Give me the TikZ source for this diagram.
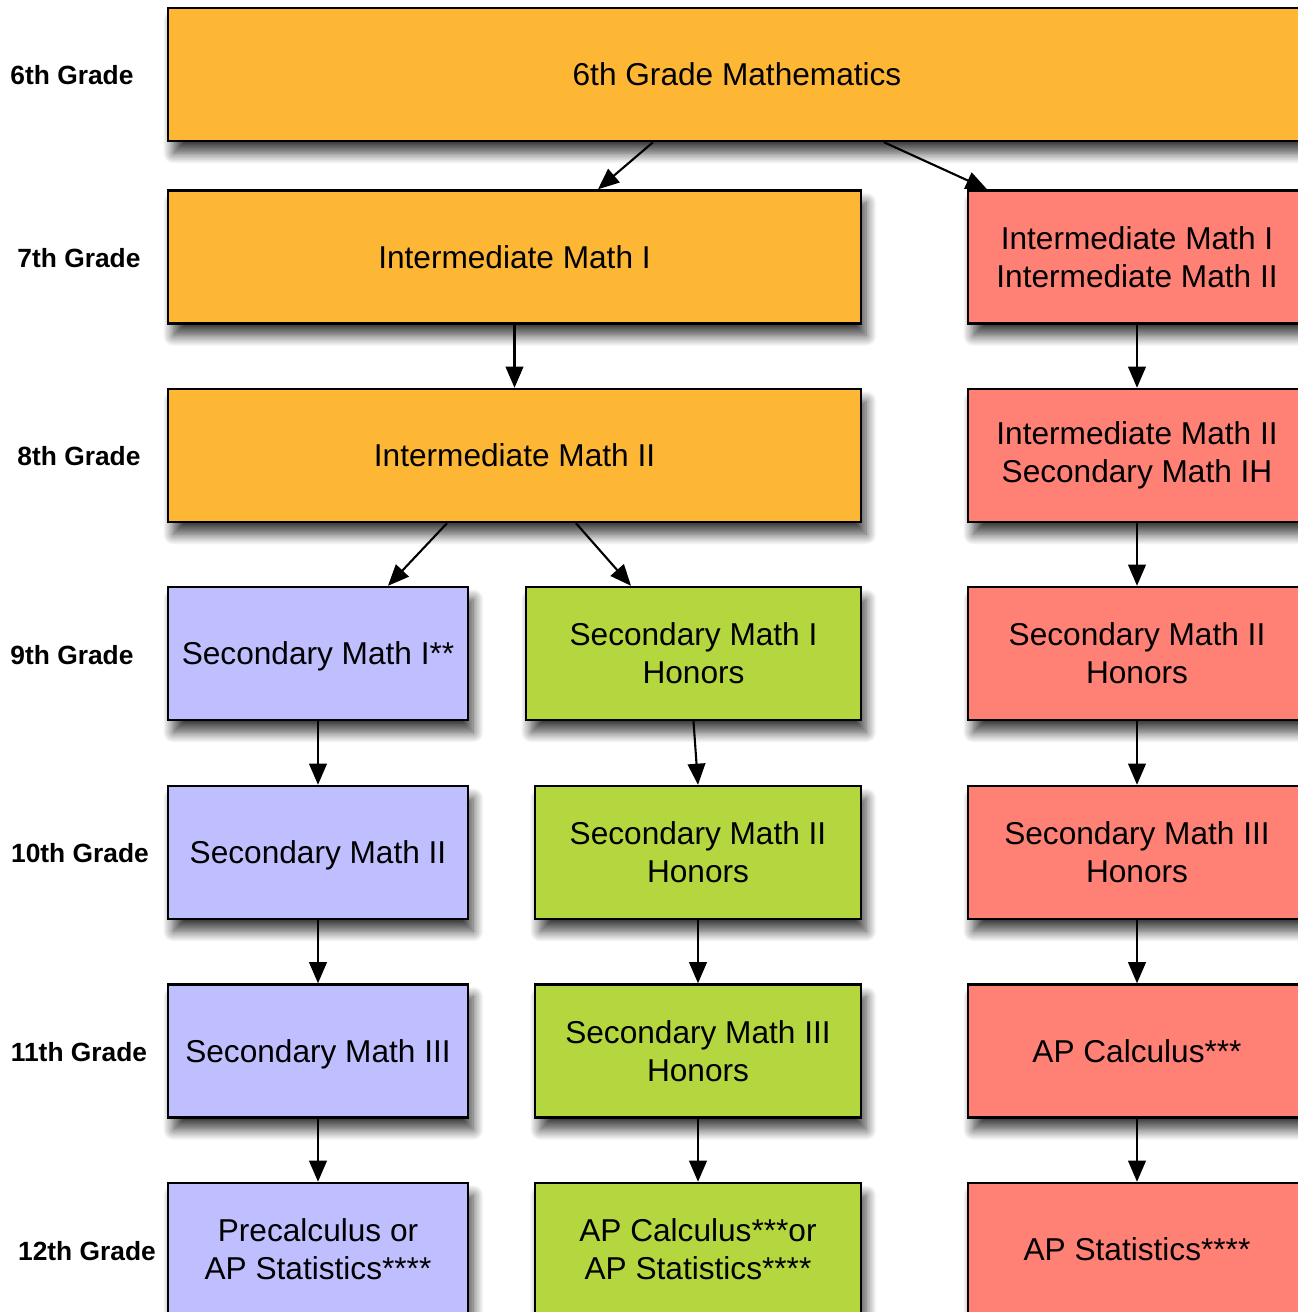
\documentclass[tikz,border=0pt]{standalone}
\usepackage{fontspec}
\setmainfont{Liberation Sans}
\usetikzlibrary{arrows.meta,shadows.blur}
\definecolor{gorange}{RGB}{253,183,53}
\definecolor{gred}{RGB}{255,128,116}
\definecolor{gblue}{RGB}{191,191,255}
\definecolor{ggreen}{RGB}{180,214,62}
\begin{document}
\begin{tikzpicture}[x=0.02cm,y=-0.02cm,
 course/.style={draw=black,line width=1.4pt,minimum height=2.66cm,align=center,
  font=\fontsize{18}{21.5}\selectfont,
  blur shadow={shadow xshift=3pt,shadow yshift=-7pt,shadow blur radius=6pt,shadow blur steps=14,shadow opacity=75}},
 single/.style={course,text depth=0pt},
 grade/.style={font=\bfseries\fontsize{15}{18}\selectfont},
 link/.style={line width=1.2pt,-{Triangle[length=12pt,width=10pt]}}]
 \clip (0,0) rectangle (1298,1312);
 % grade labels
 \node[grade] (g6) at (72,75) {6th Grade};
 \node[grade] (g7) at (79,258) {7th Grade};
 \node[grade] (g8) at (79,456) {8th Grade};
 \node[grade] (g9) at (72,655) {9th Grade};
 \node[grade] (g10) at (80,853) {10th Grade};
 \node[grade] (g11) at (79,1052) {11th Grade};
 \node[grade] (g12) at (87,1251) {12th Grade};
 % courses
 \node[single,fill=gorange,minimum width=22.76cm] (m6) at (737,74.5) {6th Grade Mathematics};
 \node[single,fill=gorange,minimum width=13.86cm] (im1) at (514.5,257) {Intermediate Math I};
 \node[course,fill=gred,minimum width=6.76cm] (im12) at (1137,257) {Intermediate Math I\\Intermediate Math II};
 \node[single,fill=gorange,minimum width=13.86cm] (im2) at (514.5,455.5) {Intermediate Math II};
 \node[course,fill=gred,minimum width=6.76cm] (im2h) at (1137,455.5) {Intermediate Math II\\Secondary Math IH};
 \node[single,fill=gblue,minimum width=6cm] (sm1) at (318,653.5) {Secondary Math I**};
 \node[course,fill=ggreen,minimum width=6.7cm] (sm1h) at (693.5,653.5) {Secondary Math I\\Honors};
 \node[course,fill=gred,minimum width=6.76cm] (sm2hr) at (1137,653.5) {Secondary Math II\\Honors};
 \node[single,fill=gblue,minimum width=6cm] (sm2) at (318,852.5) {Secondary Math II};
 \node[course,fill=ggreen,minimum width=6.52cm] (sm2h) at (698,852.5) {Secondary Math II\\Honors};
 \node[course,fill=gred,minimum width=6.76cm] (sm3hr) at (1137,852.5) {Secondary Math III\\Honors};
 \node[single,fill=gblue,minimum width=6cm] (sm3) at (318,1051) {Secondary Math III};
 \node[course,fill=ggreen,minimum width=6.52cm] (sm3h) at (698,1051) {Secondary Math III\\Honors};
 \node[single,fill=gred,minimum width=6.76cm] (apc) at (1137,1051) {AP Calculus***};
 \node[course,fill=gblue,minimum width=6cm] (pre) at (318,1249.5) {Precalculus or\\AP Statistics****};
 \node[course,fill=ggreen,minimum width=6.52cm] (apcs) at (698,1249.5) {AP Calculus***or\\AP Statistics****};
 \node[single,fill=gred,minimum width=6.76cm] (aps) at (1137,1249.5) {AP Statistics****};
 % arrows
 \draw[link] ([xshift=-1.68cm]m6.south) -- ([xshift=1.67cm]im1.north);
 \draw[link] ([xshift=2.94cm]m6.south) -- ([xshift=-3cm]im12.north);
 \draw[link] (im1) -- (im2);
 \draw[link] (im12) -- (im2h);
 \draw[link] ([xshift=-1.35cm]im2.south) -- ([xshift=1.4cm]sm1.north);
 \draw[link] ([xshift=1.23cm]im2.south) -- ([xshift=-1.25cm]sm1h.north);
 \draw[link] (im2h) -- (sm2hr);
 \draw[link] (sm1) -- (sm2);
 \draw[link] (sm1h.south) -- (sm2h.north);
 \draw[link] (sm2hr) -- (sm3hr);
 \draw[link] (sm2) -- (sm3);
 \draw[link] (sm2h) -- (sm3h);
 \draw[link] (sm3hr) -- (apc);
 \draw[link] (sm3) -- (pre);
 \draw[link] (sm3h) -- (apcs);
 \draw[link] (apc) -- (aps);
\end{tikzpicture}
\end{document}
